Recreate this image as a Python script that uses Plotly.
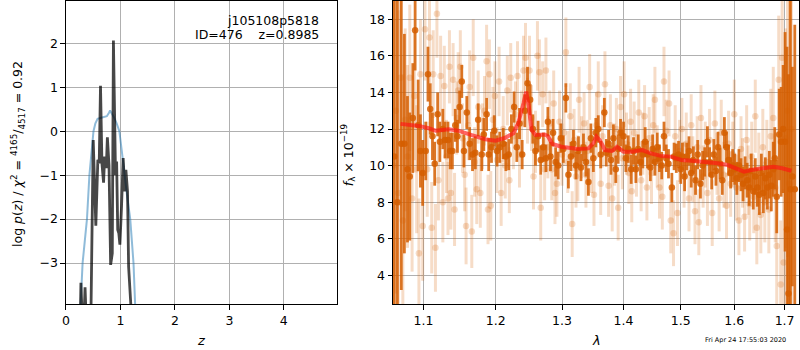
import plotly.graph_objects as go
import math

# ---------------- Left panel: log p(z) ----------------
pz_blue_z = [0.15, 0.26, 0.305, 0.345, 0.385, 0.43, 0.47, 0.505, 0.54, 0.58, 0.63, 0.70, 0.75, 0.79,
             0.81, 0.84, 0.88, 0.93, 0.98, 1.02, 1.07, 1.12, 1.18, 1.21, 1.24, 1.27, 1.35]
pz_blue_v = [-7.0, -3.95, -3.0, -2.5, -2.0, -1.0, -0.45, 0.0, 0.18, 0.28, 0.30, 0.33, 0.34, 0.42,
             0.47, 0.40, 0.32, 0.18, 0.0, -0.4, -1.0, -1.45, -2.0, -2.5, -3.0, -3.95, -7.0]

pz_black_z = [0.24, 0.274, 0.30, 0.33, 0.35, 0.37, 0.42, 0.46, 0.50, 0.548, 0.585, 0.61, 0.634, 0.66,
              0.69, 0.71, 0.74, 0.76, 0.79, 0.82, 0.85, 0.871, 0.89, 0.91, 0.93, 0.95, 0.97, 0.99,
              1.02, 1.05, 1.08, 1.10, 1.13, 1.15, 1.19, 1.25]
pz_black_v = [-6.0, -3.45, -4.3, -4.3, -3.55, -4.3, -6.0, -4.0, -0.2, -2.15, -0.65, -0.73, 1.03, -0.73,
              -1.17, -0.58, -0.84, -0.14, -0.77, -3.04, -2.78, 2.06, -0.05, -1.0, -0.69, -2.24, -2.32, -2.58,
              -1.71, -0.61, -1.37, -0.88, -1.37, -3.08, -3.93, -6.0]

z_ticks = [0, 1, 2, 3, 4]
lp_ticks = [-3, -2, -1, 0, 1, 2]

# ---------------- Right panel: spectrum ----------------
dark_wave = [1.062, 1.066, 1.071, 1.075, 1.079, 1.082, 1.086, 1.089, 1.093, 1.096, 1.099, 1.103, 1.106,
             1.109, 1.112, 1.115, 1.119, 1.122, 1.126, 1.129, 1.133, 1.136, 1.139, 1.143, 1.146, 1.149,
             1.152, 1.155, 1.159, 1.163, 1.167, 1.171, 1.175, 1.180, 1.183, 1.187, 1.190, 1.194, 1.198,
             1.202, 1.206, 1.211, 1.215, 1.219, 1.223, 1.227, 1.231, 1.235, 1.239, 1.243, 1.247, 1.251,
             1.255, 1.259, 1.263, 1.267, 1.271, 1.275, 1.278, 1.282, 1.286, 1.290, 1.294, 1.298, 1.302,
             1.306, 1.310, 1.314, 1.318, 1.322, 1.326, 1.330, 1.334, 1.338, 1.342, 1.346, 1.350, 1.354,
             1.358, 1.362, 1.368, 1.371, 1.375, 1.379, 1.383, 1.387, 1.391, 1.395, 1.400, 1.404, 1.408,
             1.413, 1.417, 1.421, 1.425, 1.429, 1.433, 1.437, 1.441, 1.446, 1.450, 1.454, 1.458, 1.462,
             1.466, 1.470, 1.474, 1.478, 1.484, 1.488, 1.492, 1.496, 1.500, 1.503, 1.507, 1.511, 1.515,
             1.519, 1.523, 1.527, 1.531, 1.536, 1.540, 1.544, 1.549, 1.553, 1.557, 1.561, 1.565, 1.569,
             1.573, 1.577, 1.581, 1.585, 1.589, 1.593, 1.597, 1.601, 1.605, 1.609, 1.613, 1.617, 1.621,
             1.625, 1.629, 1.633, 1.637, 1.641, 1.645, 1.649, 1.653, 1.657, 1.661, 1.665, 1.669, 1.673,
             1.677, 1.680, 1.684, 1.689, 1.693, 1.697, 1.701, 1.705, 1.708, 1.712, 1.716, 1.721]
dark_flux = [10.5, 8.0, 11.2, 11.2, 9.8, 9.4, 12.6, 17.4, 12.2, 10.8, 9.6, 10.8, 15.0,
             13.1, 11.6, 10.1, 12.8, 11.3, 12.0, 11.4, 11.4, 10.8, 10.8, 12.2, 11.6, 13.2,
             14.6, 10.8, 12.9, 11.2, 10.6, 10.7, 12.5, 10.6, 11.7, 12.8, 10.6, 11.0, 11.9,
             10.8, 11.0, 11.2, 10.5, 10.6, 12.0, 13.2, 11.0, 12.3, 10.6, 13.0, 14.5, 13.6,
             12.0, 10.8, 11.6, 10.3, 11.0, 10.4, 12.4, 10.5, 11.8, 10.2, 10.0, 11.5, 10.9,
             13.7, 9.5, 10.5, 11.2, 10.0, 10.8, 9.9, 11.0, 10.2, 9.1, 11.5, 10.4, 11.8,
             12.0, 10.6, 12.9, 10.7, 11.2, 10.3, 11.5, 9.8, 10.9, 11.8, 11.6, 10.4, 10.9,
             9.8, 10.8, 9.8, 10.9, 10.2, 10.6, 11.3, 10.6, 9.9, 10.9, 10.2, 11.0, 10.4,
             10.0, 11.6, 10.4, 10.1, 8.8, 10.5, 10.4, 10.6, 9.8, 10.5, 9.4, 10.5, 10.8,
             9.6, 10.3, 9.2, 10.6, 9.0, 10.0, 10.2, 11.3, 10.2, 9.5, 10.6, 9.7, 11.0,
             10.1, 9.2, 11.8, 11.0, 10.3, 9.6, 10.0, 9.8, 9.3, 10.0, 9.5, 9.0, 9.6,
             9.2, 8.8, 9.7, 8.6, 9.4, 8.8, 8.4, 9.6, 8.5, 9.3, 8.8, 9.5, 8.9,
             9.8, 10.4, 8.3, 11.7, 11.3, 12.0, 11.3, 6.5, 3.0, 8.7, 9.4, 8.7]
dark_err = [9.0, 12.0, 8.0, 6.0, 4.0, 3.5, 3.0, 2.2, 2.5, 2.0, 1.8, 1.6, 1.5,
            1.4, 1.3, 1.2, 1.2, 1.1, 1.1, 1.0, 1.0, 1.0, 1.0, 0.9, 0.9, 0.9,
            0.9, 0.9, 0.9, 0.9, 0.9, 0.9, 0.9, 0.9, 0.9, 0.9, 0.9, 0.85, 0.85,
            0.85, 0.85, 0.85, 0.8, 0.85, 0.8, 0.85, 0.8, 0.85, 0.8, 0.9, 0.9, 0.85,
            0.8, 0.8, 0.85, 0.8, 0.8, 0.75, 0.8, 0.8, 0.75, 0.8, 0.75, 0.8, 0.75,
            0.8, 0.75, 0.8, 0.75, 0.75, 0.8, 0.75, 0.75, 0.8, 0.75, 0.8, 0.75, 0.8,
            0.75, 0.75, 0.8, 0.75, 0.75, 0.8, 0.75, 0.75, 0.8, 0.75, 0.8, 0.75, 0.75,
            0.8, 0.75, 0.75, 0.8, 0.75, 0.75, 0.8, 0.75, 0.75, 0.8, 0.75, 0.8, 0.75,
            0.75, 0.8, 0.75, 0.8, 0.8, 0.75, 0.8, 0.75, 0.8, 0.75, 0.8, 0.75, 0.8,
            0.8, 0.75, 0.8, 0.8, 0.8, 0.8, 0.8, 0.85, 0.8, 0.8, 0.85, 0.8, 0.85,
            0.85, 0.8, 0.85, 0.85, 0.85, 0.85, 0.9, 0.85, 0.9, 0.9, 0.9, 0.95, 0.9,
            0.95, 1.0, 0.95, 1.0, 1.0, 1.05, 1.1, 1.05, 1.1, 1.15, 1.2, 1.3, 1.4,
            1.5, 1.7, 2.0, 2.5, 3.0, 3.5, 6.0, 10.0, 12.0, 12.0, 6.0, 9.0]

light_wave = [1.061, 1.064, 1.067, 1.070, 1.073, 1.076, 1.079, 1.082, 1.085, 1.088, 1.091, 1.094, 1.096,
              1.099, 1.102, 1.105, 1.108, 1.111, 1.113, 1.116, 1.118, 1.120, 1.123, 1.126, 1.128, 1.131,
              1.133, 1.135, 1.137, 1.140, 1.142, 1.145, 1.147, 1.150, 1.153, 1.156, 1.158, 1.161, 1.163,
              1.166, 1.168, 1.170, 1.173, 1.175, 1.178, 1.181, 1.184, 1.187, 1.189, 1.191, 1.193, 1.196,
              1.199, 1.202, 1.205, 1.208, 1.211, 1.214, 1.217, 1.220, 1.222, 1.226, 1.229, 1.232, 1.235,
              1.238, 1.241, 1.244, 1.247, 1.250, 1.253, 1.256, 1.259, 1.262, 1.265, 1.267, 1.270, 1.273,
              1.275, 1.278, 1.281, 1.284, 1.287, 1.289, 1.292, 1.296, 1.300, 1.303, 1.306, 1.309, 1.313,
              1.316, 1.319, 1.322, 1.325, 1.327, 1.331, 1.335, 1.338, 1.341, 1.344, 1.347, 1.351, 1.355,
              1.358, 1.362, 1.365, 1.369, 1.375, 1.378, 1.381, 1.385, 1.388, 1.391, 1.395, 1.398, 1.401,
              1.405, 1.409, 1.412, 1.414, 1.418, 1.422, 1.426, 1.430, 1.433, 1.436, 1.440, 1.444, 1.448,
              1.451, 1.454, 1.458, 1.462, 1.467, 1.470, 1.474, 1.479, 1.482, 1.487, 1.490, 1.494, 1.498,
              1.502, 1.506, 1.510, 1.515, 1.519, 1.522, 1.526, 1.530, 1.533, 1.537, 1.541, 1.545, 1.549,
              1.553, 1.558, 1.563, 1.567, 1.571, 1.575, 1.580, 1.585, 1.589, 1.593, 1.597, 1.600, 1.604,
              1.609, 1.613, 1.616, 1.620, 1.624, 1.627, 1.630, 1.634, 1.638, 1.641, 1.644, 1.648, 1.652,
              1.656, 1.660, 1.664, 1.668, 1.672, 1.677, 1.681, 1.684, 1.688, 1.692, 1.695, 1.698, 1.702,
              1.706, 1.710, 1.714]
light_flux = [10.0, 13.0, 8.5, 14.8, 7.0, 12.5, 10.5, 14.8, 8.2, 13.8, 9.8, 5.2, 15.0,
              6.7, 17.45, 9.8, 17.0, 6.6, 15.0, 5.5, 18.3, 9.2, 14.9, 8.0, 14.35, 10.5,
              8.2, 15.4, 8.5, 14.7, 7.6, 12.6, 14.1, 15.4, 11.5, 9.5, 6.7, 12.2, 14.3,
              6.4, 15.9, 10.2, 8.7, 13.2, 8.5, 11.6, 13.0, 15.7, 7.6, 15.0, 7.8, 12.5,
              13.8, 10.3, 14.6, 8.5, 12.0, 10.0, 14.1, 9.2, 14.8, 11.6, 12.8, 14.9, 10.6,
              12.3, 15.2, 15.9, 13.0, 15.2, 12.6, 9.4, 11.3, 16.0, 15.1, 7.7, 13.9, 9.8,
              15.2, 11.0, 12.3, 9.8, 13.4, 8.5, 9.0, 12.4, 10.6, 11.8, 16.2, 10.2, 12.7,
              6.8, 11.4, 9.4, 9.85, 13.6, 11.0, 12.3, 9.5, 10.8, 14.3, 10.2, 8.4, 12.2,
              13.9, 9.0, 11.6, 14.45, 8.9, 12.2, 8.2, 10.6, 12.0, 7.7, 13.2, 10.4, 13.9,
              11.2, 9.6, 12.4, 8.6, 11.8, 10.0, 12.9, 9.2, 11.2, 12.7, 8.8, 11.5, 9.6,
              12.2, 13.6, 10.5, 8.8, 8.3, 14.6, 11.9, 13.4, 7.0, 6.3, 11.6, 7.4, 10.8,
              12.0, 9.5, 11.2, 8.2, 12.2, 9.8, 7.5, 11.0, 6.9, 12.6, 9.4, 10.6, 8.5,
              11.4, 7.4, 12.3, 10.1, 8.2, 11.8, 9.5, 7.8, 11.2, 9.0, 10.6, 12.8, 8.8,
              7.0, 10.9, 9.6, 7.2, 11.4, 9.2, 7.9, 10.5, 8.3, 12.7, 6.6, 9.8, 7.3,
              11.0, 8.0, 10.2, 7.6, 11.6, 12.6, 8.8, 5.6, 14.7, 3.5, 15.9, 4.7, 11.5,
              13.0, 9.0, 12.0]
light_err = [12.0, 10.0, 10.0, 7.0, 8.0, 5.0, 5.0, 4.0, 4.0, 3.5, 3.5, 3.0, 3.0,
             3.0, 2.8, 2.6, 2.5, 2.5, 2.4, 2.4, 2.4, 2.2, 2.2, 2.2, 2.2, 2.0,
             2.0, 2.0, 2.0, 2.0, 2.0, 2.0, 2.1, 2.0, 1.9, 2.0, 2.1, 1.9, 2.0,
             2.0, 2.1, 1.9, 1.9, 2.0, 1.9, 1.8, 1.9, 2.0, 1.9, 1.9, 1.9, 1.8,
             1.9, 1.8, 1.9, 1.8, 1.8, 1.8, 1.9, 1.8, 1.9, 1.8, 1.8, 1.9, 1.8,
             1.8, 1.9, 1.9, 1.8, 1.9, 1.8, 1.8, 1.7, 1.9, 1.8, 1.8, 1.8, 1.7,
             1.8, 1.7, 1.8, 1.7, 1.8, 1.7, 1.8, 1.7, 1.7, 1.8, 1.9, 1.7, 1.8,
             1.8, 1.7, 1.7, 1.8, 1.8, 1.7, 1.7, 1.8, 1.7, 1.8, 1.7, 1.7, 1.8,
             1.8, 1.7, 1.7, 1.8, 1.7, 1.7, 1.8, 1.7, 1.7, 1.8, 1.7, 1.7, 1.8,
             1.7, 1.7, 1.8, 1.7, 1.7, 1.7, 1.8, 1.7, 1.7, 1.7, 1.8, 1.7, 1.7,
             1.7, 1.8, 1.7, 1.7, 1.8, 1.9, 1.7, 1.8, 1.8, 1.8, 1.7, 1.8, 1.7,
             1.7, 1.8, 1.7, 1.8, 1.7, 1.8, 1.8, 1.7, 1.8, 1.8, 1.7, 1.8, 1.8,
             1.7, 1.8, 1.8, 1.7, 1.8, 1.8, 1.8, 1.8, 1.8, 1.8, 1.8, 1.9, 1.8,
             1.9, 1.8, 1.9, 1.9, 1.9, 1.9, 2.0, 1.9, 2.0, 2.0, 2.0, 2.0, 2.1,
             2.1, 2.2, 2.3, 2.4, 2.6, 2.8, 3.0, 3.2, 3.5, 3.5, 4.5, 4.0, 6.0,
             8.0, 10.0, 12.0]

model_wave = [1.070, 1.094, 1.107, 1.116, 1.134, 1.147, 1.166, 1.185, 1.200, 1.214, 1.226, 1.233,
              1.241, 1.245, 1.249, 1.253, 1.259, 1.266, 1.273, 1.278, 1.285, 1.299, 1.325, 1.342,
              1.350, 1.355, 1.361, 1.369, 1.381, 1.389, 1.400, 1.414, 1.432, 1.447, 1.464, 1.482,
              1.501, 1.520, 1.543, 1.568, 1.587, 1.604, 1.619, 1.633, 1.655, 1.677, 1.695, 1.714]
model_flux = [12.28, 12.17, 12.04, 11.91, 11.99, 11.91, 11.67, 11.44, 11.36, 11.52, 11.77, 12.31,
              13.41, 14.04, 13.22, 11.95, 11.67, 11.67, 11.70, 11.60, 11.18, 11.03, 10.91, 10.94,
              11.22, 11.58, 11.36, 10.85, 10.80, 11.03, 10.76, 10.76, 10.85, 10.67, 10.53, 10.49,
              10.31, 10.27, 10.21, 10.13, 10.03, 9.85, 9.67, 9.76, 9.85, 9.94, 9.85, 9.72]

wave_ticks = [1.1, 1.2, 1.3, 1.4, 1.5, 1.6, 1.7]
flux_ticks = [4, 6, 8, 10, 12, 14, 16, 18]

FONT = "DejaVu Sans"
DARK = "rgba(213,94,0,0.85)"
LIGHT = "rgba(213,94,0,0.22)"

fig = go.Figure()

fig.add_trace(go.Scatter(x=pz_blue_z, y=pz_blue_v, mode="lines",
                         line=dict(color="rgba(31,119,180,0.5)", width=2),
                         xaxis="x", yaxis="y", showlegend=False))
fig.add_trace(go.Scatter(x=pz_black_z, y=pz_black_v, mode="lines",
                         line=dict(color="rgba(0,0,0,0.72)", width=2.8),
                         xaxis="x", yaxis="y", showlegend=False))

fig.add_trace(go.Scatter(x=light_wave, y=light_flux, mode="markers",
                         marker=dict(color=LIGHT, size=6.5, line=dict(width=0)),
                         error_y=dict(type="data", array=light_err, color=LIGHT, thickness=3, width=0),
                         xaxis="x2", yaxis="y2", showlegend=False))
fig.add_trace(go.Scatter(x=dark_wave, y=dark_flux, mode="markers",
                         marker=dict(color=DARK, size=6.5, line=dict(width=0)),
                         error_y=dict(type="data", array=dark_err, color=DARK, thickness=2.8, width=0),
                         xaxis="x2", yaxis="y2", showlegend=False))
fig.add_trace(go.Scatter(x=model_wave, y=model_flux, mode="lines",
                         line=dict(color="rgba(255,20,20,0.65)", width=4),
                         xaxis="x2", yaxis="y2", showlegend=False))

axis_common = dict(showline=True, linecolor="black", linewidth=1, mirror=True,
                   ticks="outside", ticklen=4.5, tickwidth=1, tickcolor="black",
                   showgrid=True, gridcolor="#b0b0b0", gridwidth=1, zeroline=False,
                   tickfont=dict(family=FONT, size=12.5, color="black"))

ydom = [1 - 304 / 350, 1 - 1 / 350]

fig.update_layout(
    width=800, height=350,
    margin=dict(l=0, r=0, t=0, b=0),
    paper_bgcolor="white", plot_bgcolor="white",
    font=dict(family=FONT, size=12.5, color="black"),
    xaxis=dict(domain=[62.3 / 800, 334.3 / 800], range=[0, 4.97], tickvals=z_ticks,
               ticktext=[str(t) for t in z_ticks], anchor="y", **axis_common),
    yaxis=dict(domain=ydom, range=[-3.93, 2.96], tickvals=lp_ticks,
               ticktext=[("\u2212" + str(-t)) if t < 0 else str(t) for t in lp_ticks],
               anchor="x", **axis_common),
    xaxis2=dict(domain=[391 / 800, 799 / 800], type="log",
                range=[math.log10(1.0604), math.log10(1.7298)],
                tickvals=wave_ticks, ticktext=[f"{t:.1f}" for t in wave_ticks],
                anchor="y2", **axis_common),
    yaxis2=dict(domain=ydom, range=[2.43, 19.0], tickvals=flux_ticks,
                ticktext=[str(t) for t in flux_ticks], anchor="x2", **axis_common),
)

ann = [
    dict(text="j105108p5818", x=319 / 800, y=1 - 20 / 350, xanchor="right", yanchor="middle",
         font=dict(size=12.5)),
    dict(text="ID=476    z=0.8985", x=319 / 800, y=1 - 34.5 / 350, xanchor="right", yanchor="middle",
         font=dict(size=12.5)),
    dict(text="<i>z</i>", x=198 / 800, y=1 - 340 / 350, xanchor="center", yanchor="middle",
         font=dict(size=13)),
    dict(text="<i>λ</i>", x=595 / 800, y=1 - 340 / 350, xanchor="center", yanchor="middle",
         font=dict(size=13)),
    dict(text="log <i>p</i>(<i>z</i>) / <i>χ</i><sup>2</sup> = <sup>4165</sup>/<sub>4517</sub> = 0.92",
         x=14 / 800, y=1 - 154 / 350, xanchor="center", yanchor="middle", textangle=-90,
         font=dict(size=12.5)),
    dict(text="<i>f</i><sub>λ</sub> × 10<sup>−19</sup>", x=346 / 800, y=1 - 155 / 350,
         xanchor="center", yanchor="middle", textangle=-90, font=dict(size=12.5)),
    dict(text="Fri Apr 24 17:55:03 2020", x=745 / 800, y=1 - 340 / 350, xanchor="center",
         yanchor="middle", font=dict(size=6.5)),
]
for a in ann:
    a.update(xref="paper", yref="paper", showarrow=False)
fig.update_layout(annotations=ann)

fig.write_html("out.html", config={"displayModeBar": False},
               post_script="document.body.style.margin='0';document.body.style.padding='0';"
                           "document.body.style.overflow='hidden';")
